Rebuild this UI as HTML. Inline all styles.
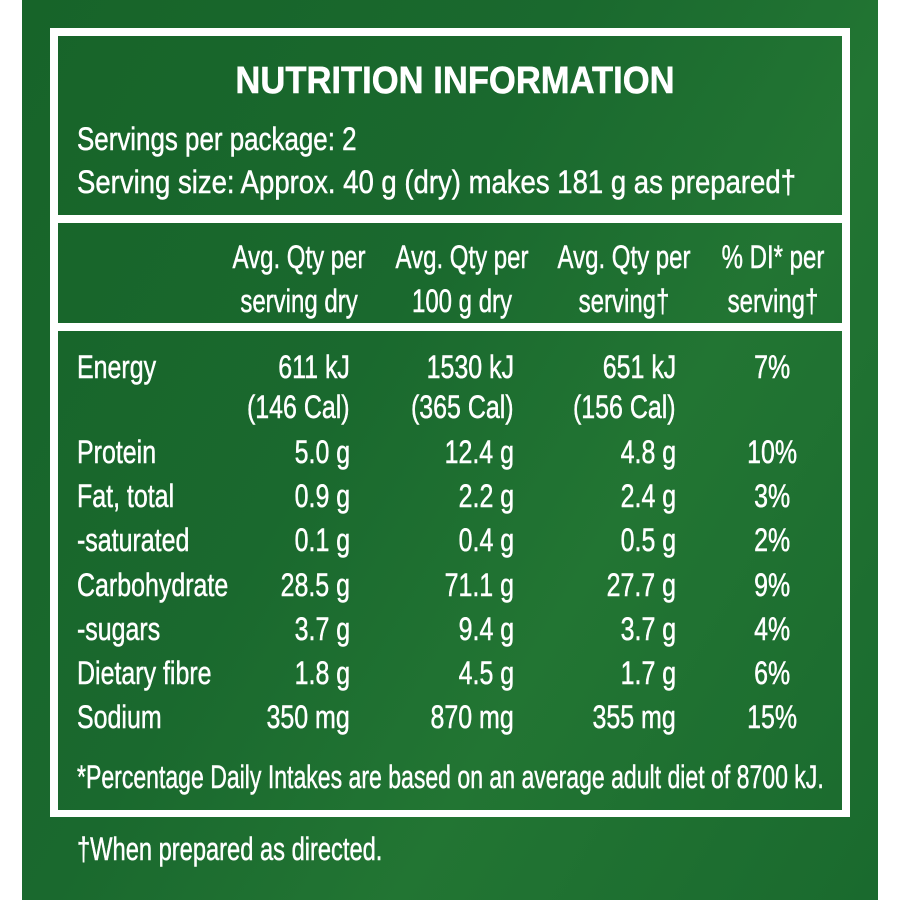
<!DOCTYPE html>
<html><head><style>
html,body{margin:0;padding:0;width:900px;height:900px;background:#fff;overflow:hidden}
#g{position:absolute;left:22px;top:0;width:856px;height:900px;background:linear-gradient(120deg,#176429 0%,#1a692e 40%,#227533 65%,#1a6a2e 100%)}
.b{position:absolute;background:#fff}
.t{position:absolute;font-family:"Liberation Sans",sans-serif;font-size:32px;line-height:1;color:#fff;white-space:nowrap;-webkit-text-stroke:0.5px #fff}
.l{transform:scaleX(0.78);transform-origin:left top}
.r{transform:scaleX(0.78);transform-origin:right top;text-align:right}
.c{transform:translateX(-50%) scaleX(0.75);transform-origin:center top}
</style></head><body>
<div id="g"></div>
<div class="b" style="left:50px;top:28px;width:800px;height:8px"></div>
<div class="b" style="left:50px;top:810px;width:800px;height:7px"></div>
<div class="b" style="left:50px;top:28px;width:8px;height:789px"></div>
<div class="b" style="left:842px;top:28px;width:8px;height:789px"></div>
<div class="b" style="left:50px;top:215px;width:800px;height:8px"></div>
<div class="b" style="left:50px;top:323px;width:800px;height:8px"></div>

<div class="t c" style="left:455px;top:62px;font-size:38px;font-weight:bold;transform:translateX(-50%) scaleX(0.91)">NUTRITION INFORMATION</div>
<div class="t l" style="left:77px;top:123px;transform:scaleX(0.81)">Servings per package: 2</div>
<div class="t l" style="left:77px;top:166px;transform:scaleX(0.86)">Serving size: Approx. 40 g (dry) makes 181 g as prepared†</div>

<div class="t c" style="left:299px;top:241px">Avg. Qty per</div>
<div class="t c" style="left:299px;top:285px">serving dry</div>
<div class="t c" style="left:462px;top:241px">Avg. Qty per</div>
<div class="t c" style="left:462px;top:285px">100 g dry</div>
<div class="t c" style="left:624px;top:241px">Avg. Qty per</div>
<div class="t c" style="left:624px;top:285px">serving†</div>
<div class="t c" style="left:773px;top:241px">% DI* per</div>
<div class="t c" style="left:773px;top:285px">serving†</div>

<div class="t l" style="left:77px;top:351px">Energy</div>
<div class="t r" style="right:550px;top:351px">611 kJ</div>
<div class="t r" style="right:386px;top:351px">1530 kJ</div>
<div class="t r" style="right:224px;top:351px">651 kJ</div>
<div class="t r" style="right:110px;top:351px">7%</div>
<div class="t r" style="right:550px;top:391px">(146 Cal)</div>
<div class="t r" style="right:386px;top:391px">(365 Cal)</div>
<div class="t r" style="right:224px;top:391px">(156 Cal)</div>

<div class="t l" style="left:77px;top:436px">Protein</div>
<div class="t r" style="right:550px;top:436px">5.0 g</div>
<div class="t r" style="right:386px;top:436px">12.4 g</div>
<div class="t r" style="right:224px;top:436px">4.8 g</div>
<div class="t r" style="right:103px;top:436px">10%</div>

<div class="t l" style="left:77px;top:480px">Fat, total</div>
<div class="t r" style="right:550px;top:480px">0.9 g</div>
<div class="t r" style="right:386px;top:480px">2.2 g</div>
<div class="t r" style="right:224px;top:480px">2.4 g</div>
<div class="t r" style="right:110px;top:480px">3%</div>

<div class="t l" style="left:77px;top:524px">-saturated</div>
<div class="t r" style="right:550px;top:524px">0.1 g</div>
<div class="t r" style="right:386px;top:524px">0.4 g</div>
<div class="t r" style="right:224px;top:524px">0.5 g</div>
<div class="t r" style="right:110px;top:524px">2%</div>

<div class="t l" style="left:77px;top:569px">Carbohydrate</div>
<div class="t r" style="right:550px;top:569px">28.5 g</div>
<div class="t r" style="right:386px;top:569px">71.1 g</div>
<div class="t r" style="right:224px;top:569px">27.7 g</div>
<div class="t r" style="right:110px;top:569px">9%</div>

<div class="t l" style="left:77px;top:613px">-sugars</div>
<div class="t r" style="right:550px;top:613px">3.7 g</div>
<div class="t r" style="right:386px;top:613px">9.4 g</div>
<div class="t r" style="right:224px;top:613px">3.7 g</div>
<div class="t r" style="right:110px;top:613px">4%</div>

<div class="t l" style="left:77px;top:657px">Dietary fibre</div>
<div class="t r" style="right:550px;top:657px">1.8 g</div>
<div class="t r" style="right:386px;top:657px">4.5 g</div>
<div class="t r" style="right:224px;top:657px">1.7 g</div>
<div class="t r" style="right:110px;top:657px">6%</div>

<div class="t l" style="left:77px;top:701px">Sodium</div>
<div class="t r" style="right:550px;top:701px">350 mg</div>
<div class="t r" style="right:386px;top:701px">870 mg</div>
<div class="t r" style="right:224px;top:701px">355 mg</div>
<div class="t r" style="right:103px;top:701px">15%</div>

<div class="t l" style="left:77px;top:761px;transform:scaleX(0.72)">*Percentage Daily Intakes are based on an average adult diet of 8700 kJ.</div>
<div class="t l" style="left:77px;top:833px;transform:scaleX(0.74)">†When prepared as directed.</div>
</body></html>
